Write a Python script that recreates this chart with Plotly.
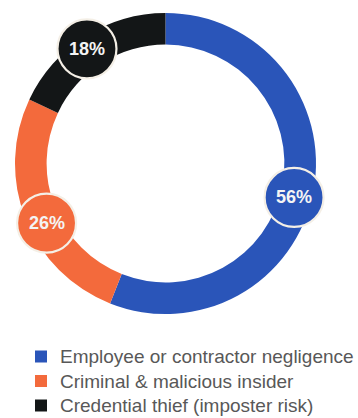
import math
import plotly.graph_objects as go

# Insider-threat incident share by type
categories = [
    "Employee or contractor negligence",
    "Criminal & malicious insider",
    "Credential thief (imposter risk)",
]
shares = [56, 26, 18]
value_labels = ["56%", "26%", "18%"]

colors = ["#2A55B9", "#F36A3C", "#131617"]

W, H = 358, 418
cx, cy = 165.5, 163.5           # ring centre in pixels (from top-left)
r_out = 150.5                   # outer radius in pixels
hole = 0.79
badge_r = 29.5                  # radius of the value badges
badge_radius = [133, 133, 139]  # distance of each badge from ring centre
badge_nudge = [4, -5, -2]       # degrees added to each slice mid-angle

# key below the ring
key_x, key_y0, key_step, key_size = 41, 356.5, 24.5, 12
key_text_x = 58
FONT = "Liberation Sans, Arial, sans-serif"


def px_x(x):
    return x / W


def px_y(y):
    return 1 - y / H


fig = go.Figure(
    go.Pie(
        labels=categories,
        values=shares,
        hole=hole,
        sort=False,
        direction="clockwise",
        rotation=0,
        textinfo="none",
        hoverinfo="label+percent",
        showlegend=False,
        marker=dict(colors=colors, line=dict(width=0)),
        domain=dict(
            x=[px_x(cx - r_out), px_x(cx + r_out)],
            y=[px_y(cy + r_out), px_y(cy - r_out)],
        ),
    )
)

shapes, annotations = [], []

# value badges sitting on each slice
total = sum(shares)
start = 0.0
for i, (v, lab, col) in enumerate(zip(shares, value_labels, colors)):
    span = v / total * 360.0
    mid = math.radians(start + span / 2 + badge_nudge[i])
    start += span
    bx = cx + badge_radius[i] * math.sin(mid)
    by = cy - badge_radius[i] * math.cos(mid)
    shapes.append(
        dict(
            type="circle",
            xref="paper",
            yref="paper",
            x0=px_x(bx - badge_r),
            x1=px_x(bx + badge_r),
            y0=px_y(by + badge_r),
            y1=px_y(by - badge_r),
            fillcolor=col,
            line=dict(color="#F4EFE6", width=2.2),
            layer="above",
        )
    )
    annotations.append(
        dict(
            x=px_x(bx),
            y=px_y(by),
            xref="paper",
            yref="paper",
            text=f"<b>{lab}</b>",
            showarrow=False,
            font=dict(family=FONT, size=18, color="#F4F4F4"),
            xanchor="center",
            yanchor="middle",
        )
    )

# key: coloured square + category name per row
for i, (name, col) in enumerate(zip(categories, colors)):
    ky = key_y0 + i * key_step
    shapes.append(
        dict(
            type="rect",
            xref="paper",
            yref="paper",
            x0=px_x(key_x - key_size / 2),
            x1=px_x(key_x + key_size / 2),
            y0=px_y(ky + key_size / 2),
            y1=px_y(ky - key_size / 2),
            fillcolor=col,
            line=dict(width=0),
        )
    )
    annotations.append(
        dict(
            x=px_x(key_text_x),
            y=px_y(ky),
            xref="paper",
            yref="paper",
            text=name,
            showarrow=False,
            font=dict(family=FONT, size=19, color="#585858"),
            xanchor="left",
            yanchor="middle",
        )
    )

fig.update_layout(
    width=W,
    height=H,
    margin=dict(l=0, r=0, t=0, b=0),
    paper_bgcolor="white",
    plot_bgcolor="white",
    shapes=shapes,
    annotations=annotations,
    showlegend=False,
)

fig.write_html("out.html")
